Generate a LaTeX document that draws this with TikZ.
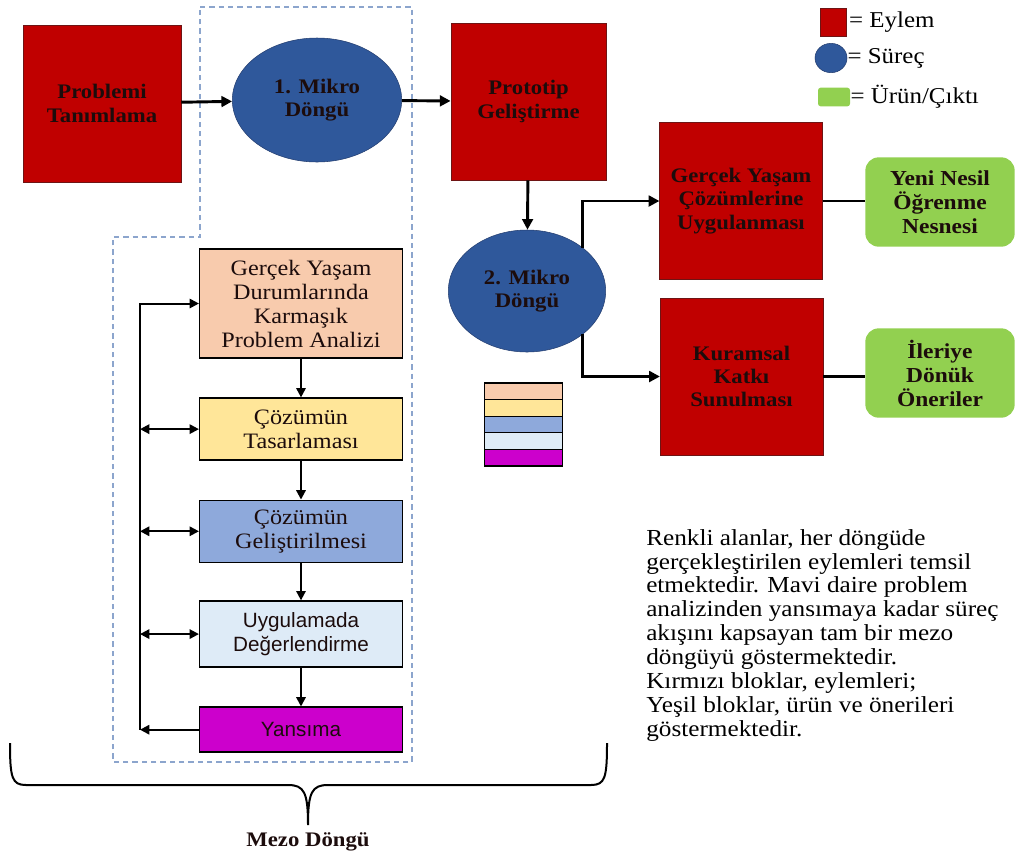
\documentclass[tikz,border=0pt]{standalone}
\usepackage{fontspec}
\setmainfont{Liberation Serif}[FakeStretch=1.1]
\setsansfont{Liberation Sans}
\usepackage{xcolor}
\usepackage{tikz}
\usetikzlibrary{shapes.geometric, arrows.meta, positioning, calc}
\definecolor{eylem}{RGB}{192, 0, 0}
\definecolor{eylemline}{RGB}{110, 20, 20}
\definecolor{surec}{RGB}{47, 88, 155}
\definecolor{surecline}{RGB}{36, 62, 112}
\definecolor{urun}{RGB}{146, 208, 80}
\definecolor{analizbg}{RGB}{248, 203, 173}
\definecolor{tasarimbg}{RGB}{255, 230, 153}
\definecolor{gelisimbg}{RGB}{142, 169, 219}
\definecolor{degerbg}{RGB}{222, 235, 247}
\definecolor{yansimabg}{RGB}{204, 0, 204}
\definecolor{mezoline}{RGB}{140, 165, 205}
\definecolor{textdark}{RGB}{28, 12, 12}
\tikzset{
    font=\fontsize{15}{17.5}\selectfont,
    action/.style={rectangle, draw=eylemline, fill=eylem, thin, align=center, text=textdark, font=\fontsize{15.5}{17.5}\selectfont\bfseries, minimum width=122pt, minimum height=118pt},
    process/.style={ellipse, draw=surecline, fill=surec, thin, align=center, text=textdark, font=\fontsize{15.5}{17.5}\selectfont\bfseries, inner sep=0pt},
    output/.style={rectangle, rounded corners=10pt, fill=urun, align=center, text=textdark, font=\fontsize{16}{18}\selectfont\bfseries, minimum width=112pt, minimum height=67pt},
    phase/.style={rectangle, draw=black, line width=1.1pt, align=center, text=textdark, minimum width=152pt, font=\fontsize{16.5}{18}\selectfont},
    phasesans/.style={phase, font=\sffamily\fontsize{15.5}{18.5}\selectfont},
    keystrip/.style={rectangle, draw=black, line width=1pt, minimum width=58.5pt, minimum height=12.5pt, inner sep=0pt},
    arrow/.style={-{Triangle[length=8pt, width=8pt]}, line width=2.2pt, color=black},
    smallarrow/.style={-{Triangle[length=7pt, width=7pt]}, line width=1.5pt, color=black},
    twoway/.style={{Triangle[length=7pt, width=7pt]}-{Triangle[length=7pt, width=7pt]}, line width=1.5pt, color=black},
    joint/.style={line width=2.2pt, color=black},
    mezobox/.style={draw=mezoline, line width=1pt, dash pattern=on 4pt off 3pt},
    legend_text/.style={font=\fontsize{17}{19}\selectfont, inner sep=0pt, anchor=west},
    note_text/.style={font=\fontsize{17.2}{17.9}\selectfont, align=left, inner sep=0pt}
}

\begin{document}
\begin{tikzpicture}[x=0.75pt, y=-0.75pt, node distance=29pt]

    \useasboundingbox (0,0) rectangle (1016,854);

    % Mezo Loop Outline
    \draw [mezobox] (200,7) -- (412,7) -- (412,762) -- (113,762) -- (113,237) -- (200,237) -- cycle;

    % Top Row
    \node (probdef) [action, minimum width=118.5pt] at (102,103.5) {Problemi\\Tanımlama};
    \node (micro1) [process, minimum width=127pt, minimum height=93pt] at (317,100) {1. Mikro\\Döngü};
    \node (proto) [action, minimum width=116.5pt] at (528.5,101.5) {Prototip\\Geliştirme};

    % Second Micro Loop
    \node (micro2) [process, minimum width=118pt, minimum height=91.5pt] at (527,291) {2. Mikro\\Döngü};

    % Actions & Outputs
    \node (apply) [action] at (741,201) {Gerçek Yaşam\\Çözümlerine\\Uygulanması};
    \node (theory) [action] at (741.5,376.5) {Kuramsal\\Katkı\\Sunulması};
    \node (newobj) [output] at (940,202) {Yeni Nesil\\Öğrenme\\Nesnesi};
    \node (future) [output] at (940,373) {İleriye\\Dönük\\Öneriler};

    % Mezo Loop Steps
    \node (analysis) [phase, fill=analizbg, minimum height=81.75pt] at (301,303.5) {Gerçek Yaşam\\Durumlarında\\Karmaşık\\Problem Analizi};
    \node (design) [phase, fill=tasarimbg, minimum height=46.5pt, below=of analysis] {Çözümün\\Tasarlaması};
    \node (develop) [phase, fill=gelisimbg, minimum height=46.5pt, below=of design] {Çözümün\\Geliştirilmesi};
    \node (evaluate) [phasesans, fill=degerbg, minimum height=49.5pt, below=28pt of develop] {Uygulamada\\Değerlendirme};
    \node (reflect) [phasesans, fill=yansimabg, minimum height=33.75pt, below=29pt of evaluate] {Yansıma};

    % Colour Key
    \foreach \c [count=\i] in {analizbg, tasarimbg, gelisimbg, degerbg, yansimabg}
        \node (key\i) [keystrip, fill=\c] at (523.5,{374.7+16.6*\i}) {};

    % Legend
    \node (legeylem) [rectangle, fill=eylem, draw=eylemline, thin, minimum width=19.5pt, minimum height=21pt, inner sep=0pt] at (833,22) {};
    \node (legsurec) [ellipse, fill=surec, draw=surecline, thin, minimum width=24pt, minimum height=22pt, inner sep=0pt] at (831,58) {};
    \node (legurun) [rectangle, fill=urun, rounded corners=2pt, minimum width=24pt, minimum height=14pt, inner sep=0pt] at (834,97) {};
    \node [legend_text, right=2pt of legeylem] {= Eylem};
    \node [legend_text, right=0pt of legsurec] {= Süreç};
    \node [legend_text, right=0pt of legurun] {= Ürün/Çıktı};

    % Paths: Top Sequence
    \draw [arrow] (probdef) -- (micro1);
    \draw [arrow] (micro1) -- (proto);
    \draw [arrow] (proto) -- (micro2);

    % Paths: Split
    \draw [arrow] (micro2.north east) |- (apply.west);
    \draw [arrow] (micro2.south east) |- (theory.west);
    \draw [joint] (apply.east) -- (apply.east -| newobj.west);
    \draw [joint] (theory.east) -- (theory.east -| future.west);

    % Paths: Mezo Steps
    \draw [smallarrow] (analysis) -- (design);
    \draw [smallarrow] (design) -- (develop);
    \draw [smallarrow] (develop) -- (evaluate);
    \draw [smallarrow] (evaluate) -- (reflect);

    % Paths: Feedback
    \coordinate (fb) at (140,0);
    \draw [smallarrow] (reflect.west) -- (fb |- reflect.west);
    \draw [smallarrow] (fb |- reflect.west) -- (fb |- analysis.west) -- (analysis.west);
    \foreach \n in {design, develop, evaluate}
        \draw [twoway] (fb |- \n.west) -- (\n.west);

    % Mezo Brace
    \coordinate (bracetip) at (308,825);
    \draw [line width=1.5pt] (10,743) .. controls (10,778) and (12,785) .. (26,785) -- (288,785)
        .. controls (304,785) and (308,792) .. (bracetip)
        .. controls (308,792) and (312,785) .. (328,785) -- (591,785)
        .. controls (605,785) and (607,778) .. (607,743);
    \node (mezolabel) [below=2pt of bracetip, font=\fontsize{15.5}{17}\selectfont\bfseries, text=textdark] {Mezo Döngü};

    % Explanation
    \node (note) [note_text, anchor=north west] at (646,529) {Renkli alanlar, her döngüde\\gerçekleştirilen eylemleri temsil\\etmektedir. Mavi daire problem\\analizinden yansımaya kadar süreç\\akışını kapsayan tam bir mezo\\döngüyü göstermektedir.\\Kırmızı bloklar, eylemleri;\\Yeşil bloklar, ürün ve önerileri\\göstermektedir.};

\end{tikzpicture}
\end{document}
